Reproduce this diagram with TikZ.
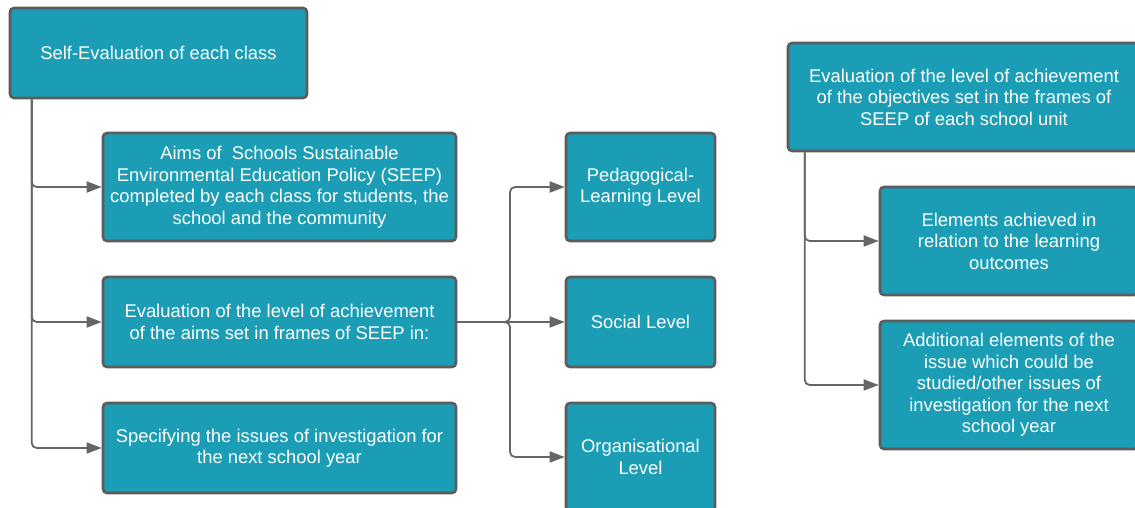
\documentclass[tikz,border=0pt]{standalone}
\usepackage{fontspec}
\setmainfont{Liberation Sans}
\usepackage{tikz}
\usetikzlibrary{arrows.meta}

\definecolor{boxteal}{RGB}{26,157,181}
\definecolor{boxrim}{RGB}{92,92,92}
\definecolor{linkgrey}{RGB}{102,102,102}

\begin{document}
\begin{tikzpicture}[x=1pt,y=-1pt,
    box/.style={draw=boxrim,line width=2.6pt,fill=boxteal,rounded corners=4pt,
      text=white,align=center,inner sep=0pt,
      font=\fontsize{18.4}{21.5}\selectfont},
    link/.style={draw=linkgrey,line width=1.8pt,rounded corners=5pt,
      -{Triangle[length=15pt,width=11pt]}}]
  \useasboundingbox[fill=white] (0,0) rectangle (1135,508);
  \clip (0,0) rectangle (1135,508);

  \node[box,minimum width=297pt,minimum height=90pt] (self) at (158.5,53) {Self-Evaluation of each class};
  \node[box,minimum width=353pt,minimum height=108pt] (aims) at (279.5,187) {Aims of \ Schools Sustainable\\Environmental Education Policy (SEEP)\\completed by each class for students, the\\school and the community};
  \node[box,minimum width=353pt,minimum height=90pt] (achv) at (279.5,322) {Evaluation of the level of achievement\\of the aims set in frames of SEEP in:};
  \node[box,minimum width=353pt,minimum height=90pt] (spec) at (279.5,448) {Specifying the issues of investigation for\\the next school year};

  \node[box,minimum width=149pt,minimum height=108pt] (peda) at (640.5,187) {Pedagogical-\\Learning Level};
  \node[box,minimum width=149pt,minimum height=90pt] (soc) at (640.5,322) {Social Level};
  \node[box,minimum width=149pt,minimum height=108pt] (org) at (640.5,457) {Organisational\\Level};

  \node[box,minimum width=352pt,minimum height=108pt] (unit) at (964,97) {Evaluation of the level of achievement\\of the objectives set in the frames of\\SEEP of each school unit};
  \node[box,minimum width=258pt,minimum height=108pt] (elem) at (1009,241) {Elements achieved in\\relation to the learning\\outcomes};
  \node[box,minimum width=258pt,minimum height=128pt] (addl) at (1009,385) {Additional elements of the\\issue which could be\\studied/other issues of\\investigation for the next\\school year};

  \coordinate (split) at (510,322);

  \draw[link] ([xshift=23pt]self.south west) |- (aims.west);
  \draw[link] ([xshift=23pt]self.south west) |- (achv.west);
  \draw[link] ([xshift=23pt]self.south west) |- (spec.west);

  \draw[link] (achv.east) -- (split) |- (peda.west);
  \draw[link] (achv.east) -- (soc.west);
  \draw[link] (achv.east) -- (split) |- (org.west);

  \draw[link] ([xshift=18pt]unit.south west) |- (elem.west);
  \draw[link] ([xshift=18pt]unit.south west) |- (addl.west);
\end{tikzpicture}
\end{document}
